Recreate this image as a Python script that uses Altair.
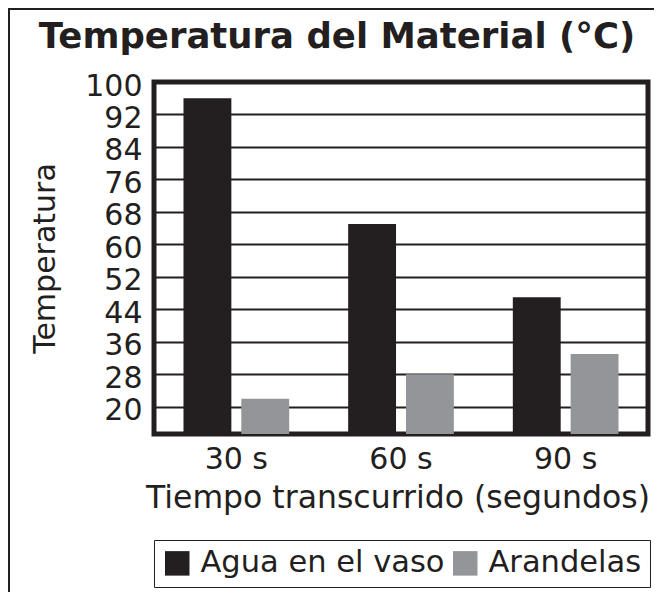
import altair as alt
import pandas as pd

times = ["30 s", "60 s", "90 s"]
series = ["Agua en el vaso", "Arandelas"]
agua = [96, 65, 47]
arandelas = [22, 28, 33]
y_ticks = [20, 28, 36, 44, 52, 60, 68, 76, 84, 92, 100]
colors = ["#231f20", "#939598"]

rows = []
for t, a, b in zip(times, agua, arandelas):
    rows.append({"Tiempo": t, "Serie": series[0], "Temp": a})
    rows.append({"Tiempo": t, "Serie": series[1], "Temp": b})
df = pd.DataFrame(rows)

FONT = "DejaVu Sans"
INK = "#231f20"

bars = alt.Chart(df).mark_bar(clip=True).encode(
    x=alt.X("Tiempo:N", sort=times,
            scale=alt.Scale(paddingInner=0, paddingOuter=0),
            axis=alt.Axis(title="Tiempo transcurrido (segundos)", labelAngle=0,
                          ticks=False, domain=False, labelPadding=10,
                          titlePadding=8, titleFontSize=31.5,
                          titleX=243.5, titleAlign="center")),
    xOffset=alt.XOffset("Serie:N", sort=series,
                        scale=alt.Scale(paddingInner=0.172, paddingOuter=0.51)),
    y=alt.Y("Temp:Q",
            scale=alt.Scale(domain=[13.3, 100], nice=False, zero=False),
            axis=alt.Axis(title="Temperatura", values=y_ticks, ticks=False,
                          domain=False, labelPadding=12, labelOffset=4,
                          gridColor=INK, gridWidth=2, gridOpacity=1,
                          titlePadding=24)),
    color=alt.Color("Serie:N", sort=series,
                    scale=alt.Scale(domain=series, range=colors),
                    legend=alt.Legend(title=None, orient="none", legendX=0,
                                      legendY=458, direction="horizontal",
                                      symbolType="square", symbolSize=600,
                                      symbolStrokeWidth=0, labelFontSize=30.5,
                                      labelFont=FONT, labelColor=INK,
                                      labelLimit=500,
                                      strokeColor=INK, padding=8,
                                      columnPadding=5, labelOffset=8)),
)

frame_left = alt.Chart(df).mark_rule(color=INK, strokeWidth=2, clip=False).encode(
    x=alt.value(-145), y=alt.value(-73), y2=alt.value(520))
frame_top = alt.Chart(df).mark_rule(color=INK, strokeWidth=2, clip=False).encode(
    x=alt.value(-146), x2=alt.value(510), y=alt.value(-73))

chart = alt.layer(bars, frame_left, frame_top).properties(
    width=494, height=352,
    autosize=alt.AutoSizeParams(type="none"),
    padding={"left": 146, "top": 74, "right": 6, "bottom": 158},
    title=alt.TitleParams("Temperatura del Material (°C)", font=FONT,
                          fontSize=35.5, fontWeight="bold", color=INK,
                          offset=-47, anchor="middle", frame="group", dx=-64),
).configure_view(
    stroke=INK, strokeWidth=5
).configure_axis(
    labelFont=FONT, titleFont=FONT, labelFontSize=30, titleFontSize=30,
    labelColor=INK, titleColor=INK, titleFontWeight="normal"
).configure_axisX(grid=False)

chart.save("out.html", embed_options={"renderer": "svg", "actions": False})
